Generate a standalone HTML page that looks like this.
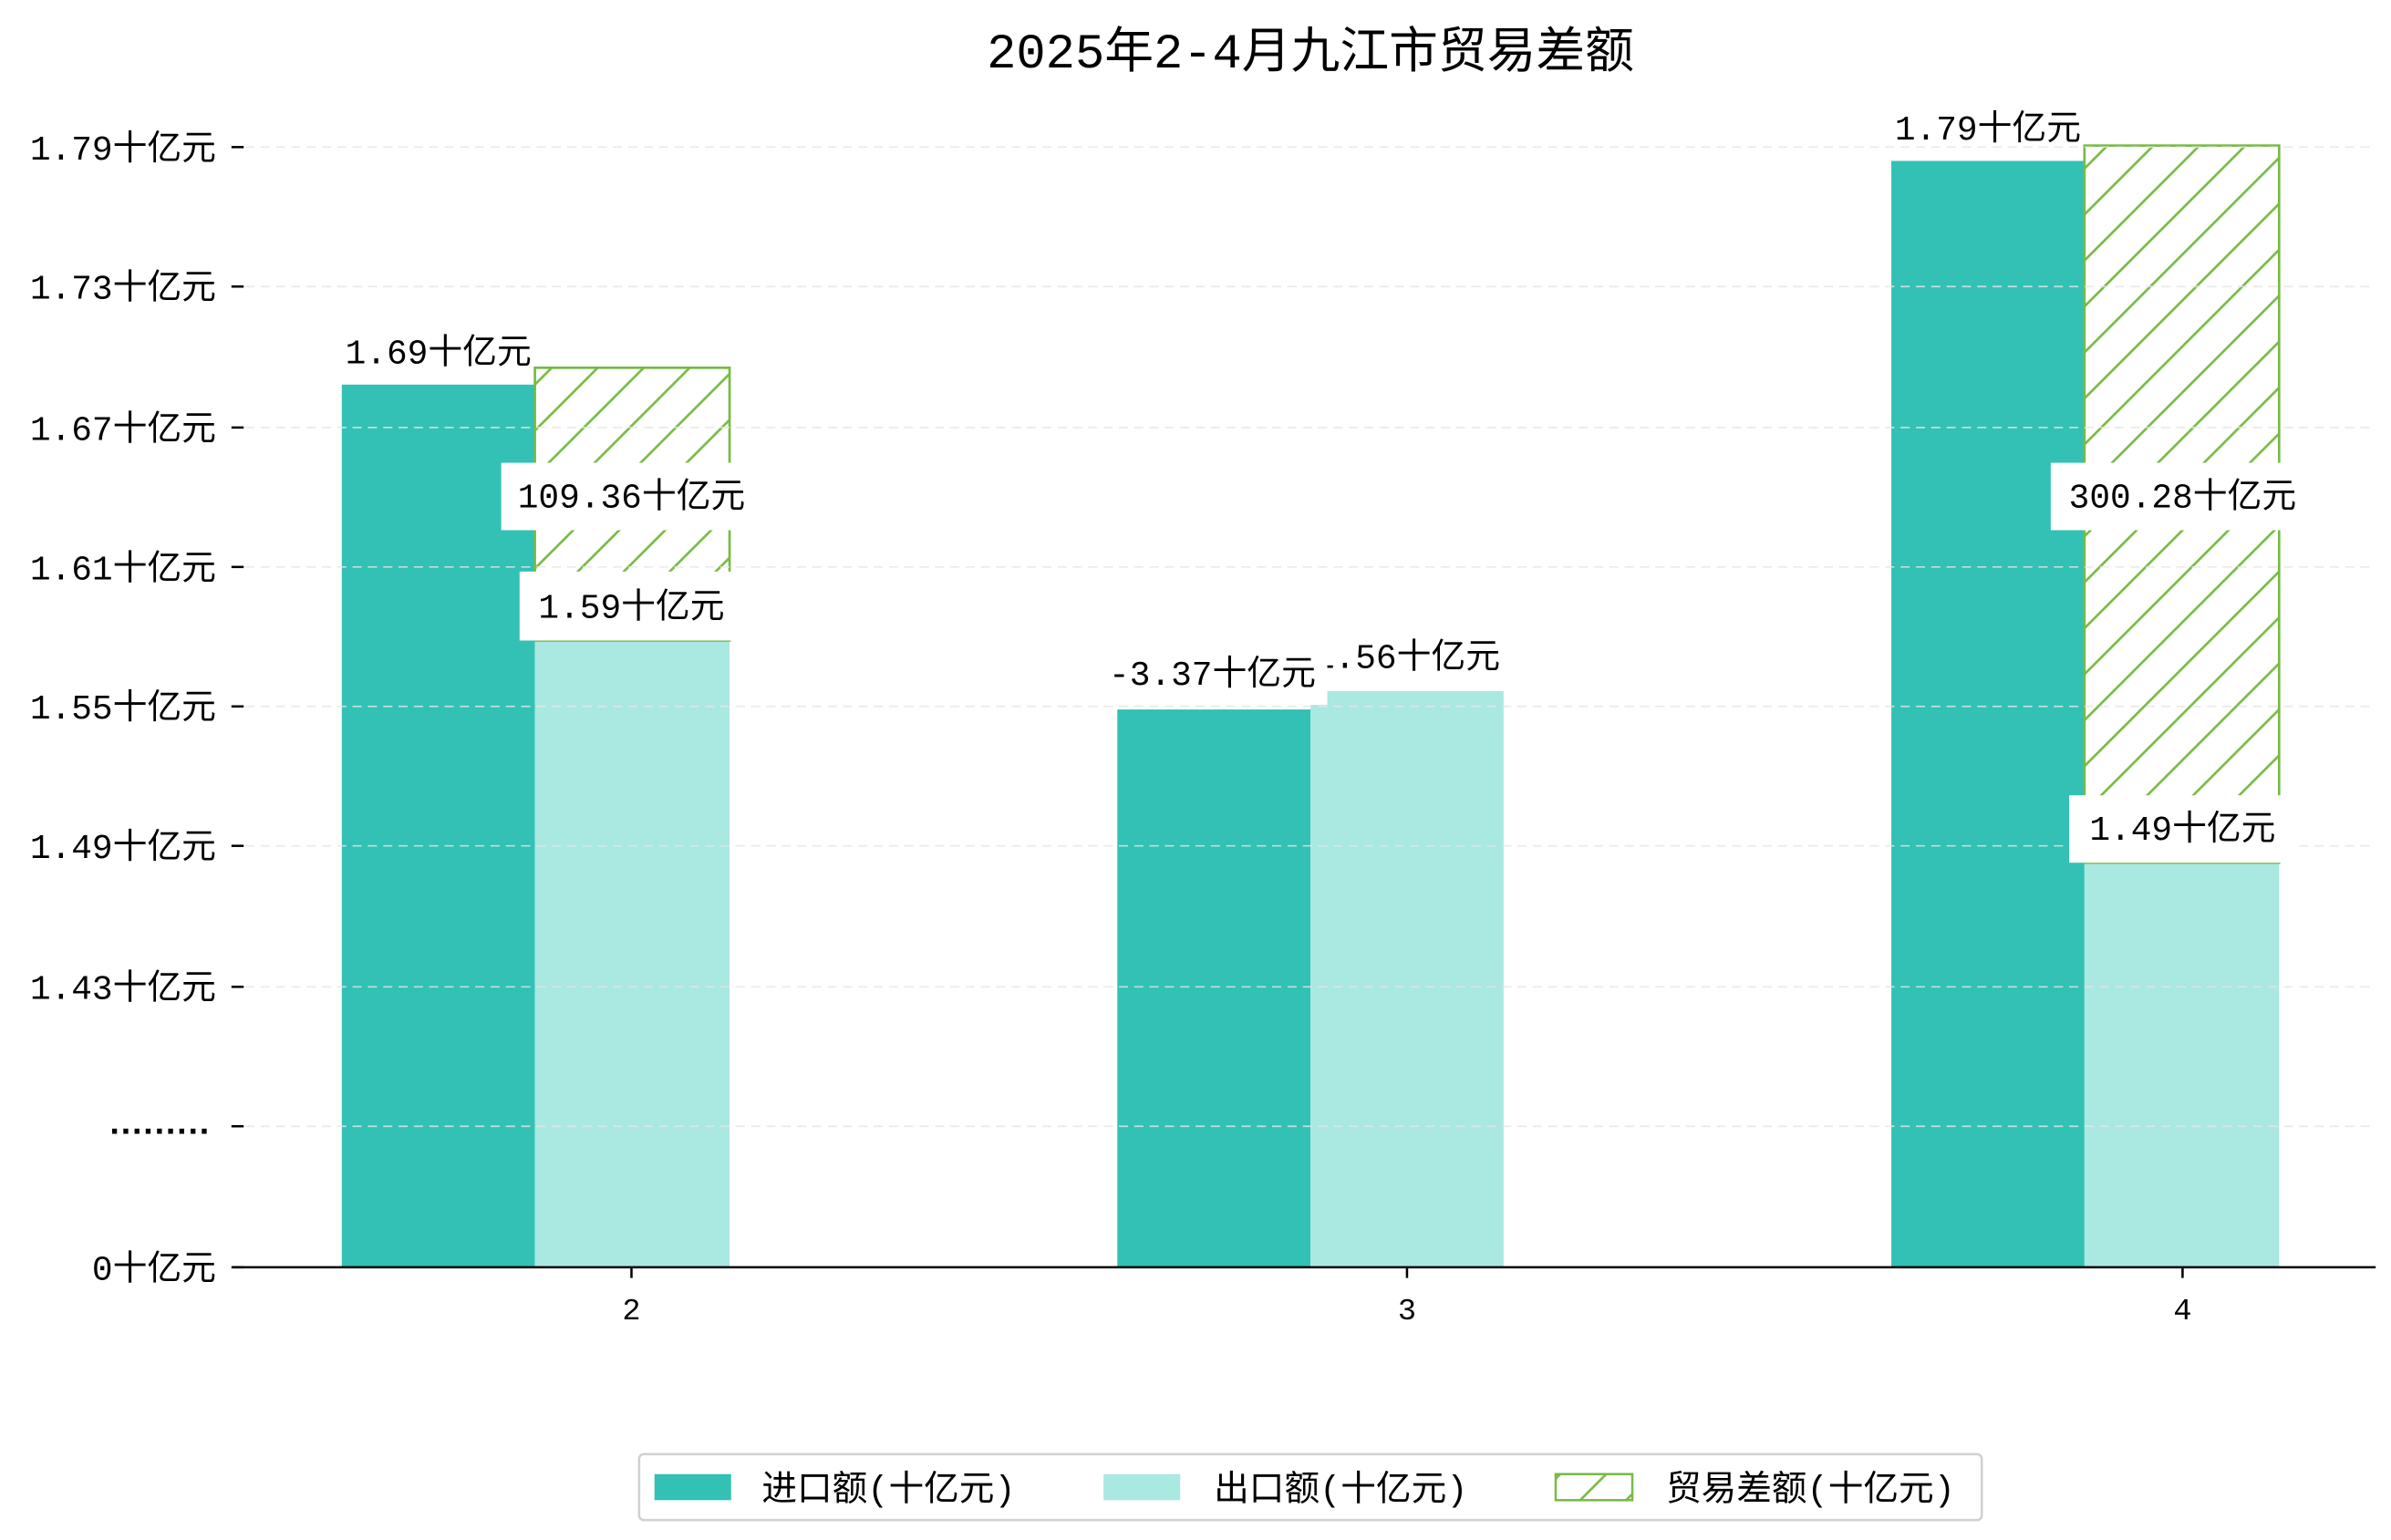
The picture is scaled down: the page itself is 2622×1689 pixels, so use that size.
<!DOCTYPE html>
<html><head><meta charset="utf-8"><style>
html,body{margin:0;padding:0;background:#fff;}
svg{display:block;}
text{font-family:"Liberation Mono","Noto Sans CJK SC","WenQuanYi Zen Hei",monospace;fill:#000;}
</style></head><body>
<svg width="2622" height="1689" viewBox="0 0 1560 1005" preserveAspectRatio="none" xmlns="http://www.w3.org/2000/svg">
<defs>
<pattern id="h" patternUnits="userSpaceOnUse" width="30" height="30">
<line x1="-5" y1="35" x2="35" y2="-5" stroke="#77bb44" stroke-width="1.6"/>
<line x1="-35" y1="35" x2="5" y2="-5" stroke="#77bb44" stroke-width="1.6"/>
<line x1="25" y1="35" x2="65" y2="-5" stroke="#77bb44" stroke-width="1.6"/>
</pattern>
</defs>
<rect width="1560" height="1005" fill="#fff"/>
<text x="855" y="44" font-size="32" text-anchor="middle">2025年2-4月九江市贸易差额</text>

<rect x="223" y="251" width="126" height="576" fill="#32c1b4"/>
<rect x="349" y="418" width="127" height="409" fill="#aae8e2"/>
<rect x="349" y="240" width="127" height="178" fill="url(#h)" stroke="#77bb44" stroke-width="1.6"/>
<rect x="729" y="463" width="126" height="364" fill="#32c1b4"/>
<rect x="855" y="451" width="126" height="376" fill="#aae8e2"/>
<rect x="1234" y="105" width="126" height="722" fill="#32c1b4"/>
<rect x="1360" y="563" width="127" height="264" fill="#aae8e2"/>
<rect x="1360" y="95" width="127" height="468" fill="url(#h)" stroke="#77bb44" stroke-width="1.6"/>

<g stroke="#e6e6e6" stroke-width="1" stroke-dasharray="6,4" opacity="0.8">
<line x1="160" y1="96" x2="1550" y2="96"/>
<line x1="160" y1="187" x2="1550" y2="187"/>
<line x1="160" y1="279" x2="1550" y2="279"/>
<line x1="160" y1="370" x2="1550" y2="370"/>
<line x1="160" y1="461" x2="1550" y2="461"/>
<line x1="160" y1="552" x2="1550" y2="552"/>
<line x1="160" y1="644" x2="1550" y2="644"/>
<line x1="160" y1="735" x2="1550" y2="735"/>
</g>

<line x1="152" y1="827" x2="1550" y2="827" stroke="#000" stroke-width="1.5"/>
<g stroke="#000" stroke-width="1.5">
<line x1="151" y1="96" x2="159" y2="96"/><line x1="151" y1="187" x2="159" y2="187"/>
<line x1="151" y1="279" x2="159" y2="279"/><line x1="151" y1="370" x2="159" y2="370"/>
<line x1="151" y1="461" x2="159" y2="461"/><line x1="151" y1="552" x2="159" y2="552"/>
<line x1="151" y1="644" x2="159" y2="644"/><line x1="151" y1="735" x2="159" y2="735"/>
<line x1="151" y1="827" x2="159" y2="827"/>
<line x1="412" y1="827" x2="412" y2="834"/><line x1="918" y1="827" x2="918" y2="834"/><line x1="1424" y1="827" x2="1424" y2="834"/>
</g>
<g font-size="22.5" text-anchor="end">
<text x="141" y="104">1.79十亿元</text>
<text x="141" y="195">1.73十亿元</text>
<text x="141" y="287">1.67十亿元</text>
<text x="141" y="378">1.61十亿元</text>
<text x="141" y="469">1.55十亿元</text>
<text x="141" y="560">1.49十亿元</text>
<text x="141" y="652">1.43十亿元</text>
<text x="141" y="835">0十亿元</text>
</g>
<text x="68" y="740" font-size="22.5" font-weight="bold" textLength="72" lengthAdjust="spacing">.........</text>
<g font-size="20" text-anchor="middle">
<text x="412" y="861">2</text><text x="918" y="861">3</text><text x="1424" y="861">4</text>
</g>

<g font-size="22.5" text-anchor="middle">
<text x="286" y="237">1.69十亿元</text>
<rect x="327" y="302" width="170" height="44" fill="#fff"/>
<text x="412" y="331">109.36十亿元</text>
<rect x="339" y="373" width="146" height="45" fill="#fff"/>
<text x="412" y="403">1.59十亿元</text>
<text x="918" y="436">1.56十亿元</text>
<rect x="716" y="420" width="150" height="40" fill="#fff"/>
<text x="791" y="447">-3.37十亿元</text>
<text x="1297" y="91">1.79十亿元</text>
<rect x="1338" y="302" width="170" height="44" fill="#fff"/>
<text x="1424" y="331">300.28十亿元</text>
<rect x="1350" y="519" width="147" height="44" fill="#fff"/>
<text x="1424" y="548">1.49十亿元</text>
</g>

<rect x="417" y="949" width="876" height="43" rx="3" fill="#fff" stroke="#d0d0d0" stroke-width="1.5"/>
<rect x="427" y="962" width="50" height="17" fill="#32c1b4"/>
<rect x="720" y="962" width="50" height="17" fill="#aae8e2"/>
<rect x="1015" y="962" width="50" height="17" fill="url(#h)" stroke="#77bb44" stroke-width="1.5"/>
<g font-size="23">
<text x="497" y="979">进口额(十亿元)</text>
<text x="792" y="979">出口额(十亿元)</text>
<text x="1087" y="979">贸易差额(十亿元)</text>
</g>
</svg>
</body></html>
